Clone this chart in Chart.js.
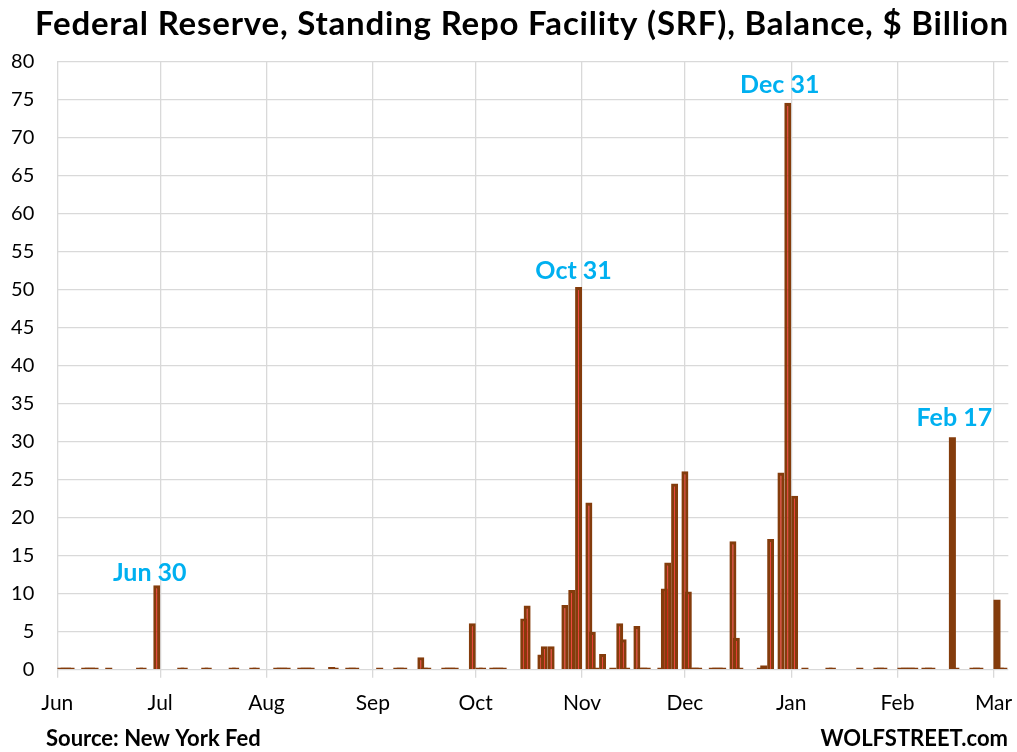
<!DOCTYPE html>
<html>
<head>
<meta charset="utf-8">
<script src="https://cdn.jsdelivr.net/npm/chart.js@4.4.0/dist/chart.umd.min.js"></script>
<style>
  html, body { margin: 0; padding: 0; background: #fff; }
  #wrap { width: 1017px; height: 752px; position: relative; }
</style>
</head>
<body>
<div id="wrap"><canvas id="myChart"></canvas></div>
<script>
// SRF balance in $ billion, one entry per day with an operation (other days are left out)
var dates = [
  '2025-06-02', '2025-06-03', '2025-06-04', '2025-06-05', '2025-06-09', '2025-06-10', '2025-06-11', '2025-06-12',
  '2025-06-16', '2025-06-25', '2025-06-26', '2025-06-30',
  '2025-07-07', '2025-07-08', '2025-07-14', '2025-07-15', '2025-07-22', '2025-07-23', '2025-07-28', '2025-07-29',
  '2025-08-04', '2025-08-05', '2025-08-06', '2025-08-07', '2025-08-11', '2025-08-12', '2025-08-13', '2025-08-14',
  '2025-08-20', '2025-08-21', '2025-08-25', '2025-08-26', '2025-08-27',
  '2025-09-03', '2025-09-08', '2025-09-09', '2025-09-10', '2025-09-15', '2025-09-16', '2025-09-17',
  '2025-09-22', '2025-09-23', '2025-09-24', '2025-09-25', '2025-09-30',
  '2025-10-02', '2025-10-03', '2025-10-06', '2025-10-07', '2025-10-08', '2025-10-09', '2025-10-15', '2025-10-16',
  '2025-10-20', '2025-10-21', '2025-10-23', '2025-10-27', '2025-10-29', '2025-10-31',
  '2025-11-03', '2025-11-04', '2025-11-05', '2025-11-07', '2025-11-10', '2025-11-12', '2025-11-13', '2025-11-14',
  '2025-11-17', '2025-11-18', '2025-11-19', '2025-11-20', '2025-11-24', '2025-11-25', '2025-11-26', '2025-11-28',
  '2025-12-01', '2025-12-02', '2025-12-03', '2025-12-04', '2025-12-05', '2025-12-09', '2025-12-10', '2025-12-11',
  '2025-12-12', '2025-12-15', '2025-12-16', '2025-12-17', '2025-12-23', '2025-12-24', '2025-12-26', '2025-12-29',
  '2025-12-31',
  '2026-01-02', '2026-01-05', '2026-01-12', '2026-01-13', '2026-01-21', '2026-01-26', '2026-01-27', '2026-01-28',
  '2026-02-02', '2026-02-03', '2026-02-04', '2026-02-05', '2026-02-06', '2026-02-09', '2026-02-10', '2026-02-11',
  '2026-02-17', '2026-02-18', '2026-02-23', '2026-02-24', '2026-02-25',
  '2026-03-02', '2026-03-03', '2026-03-04'
];
var balances = [
  0.01, 0.01, 0.01, 0.01, 0.01, 0.01, 0.01, 0.01,
  0.01, 0.01, 0.01, 11.1,
  0.01, 0.01, 0.01, 0.01, 0.01, 0.01, 0.01, 0.01,
  0.01, 0.01, 0.01, 0.01, 0.01, 0.01, 0.01, 0.01,
  0.35, 0.01, 0.01, 0.01, 0.01,
  0.01, 0.01, 0.01, 0.01, 1.65, 0.01, 0.01,
  0.01, 0.01, 0.01, 0.01, 6.1,
  0.01, 0.01, 0.01, 0.01, 0.01, 0.01, 6.75, 8.45,
  2.0, 3.1, 3.1, 8.5, 10.5, 50.35,
  22.0, 5.0, 0.01, 2.05, 0.01, 6.1, 4.0, 0.01,
  5.75, 0.01, 0.01, 0.01, 0.01, 10.7, 14.1, 24.5,
  26.1, 10.3, 0.01, 0.01, 0.01, 0.01, 0.01, 0.01,
  0.01, 16.9, 4.2, 0.01, 0.01, 0.55, 17.2, 25.95,
  74.6,
  22.9, 0.01, 0.01, 0.01, 0.01, 0.01, 0.01, 0.01,
  0.01, 0.01, 0.01, 0.01, 0.01, 0.01, 0.01, 0.01,
  30.6, 0.01, 0.01, 0.01, 0.01,
  9.2, 0.01, 0.01
];

// x axis: month starts and their labels
var monthStarts = ['2025-06-01', '2025-07-01', '2025-08-01', '2025-09-01', '2025-10-01',
                   '2025-11-01', '2025-12-01', '2026-01-01', '2026-02-01', '2026-03-01'];
var monthLabels = ['Jun', 'Jul', 'Aug', 'Sep', 'Oct', 'Nov', 'Dec', 'Jan', 'Feb', 'Mar'];

// callouts
var noteDates = ['2025-06-30', '2025-10-31', '2025-12-31', '2026-02-17'];
var noteLabels = ['Jun 30', 'Oct 31', 'Dec 31', 'Feb 17'];

var titleText = 'Federal Reserve, Standing Repo Facility (SRF), Balance, $ Billion';
var sourceText = 'Source: New York Fed';
var siteText = 'WOLFSTREET.com';

// days since Jun 1, 2025
function dayNum(s) {
  var p = s.split('-');
  return (Date.UTC(+p[0], p[1] - 1, +p[2]) - Date.UTC(2025, 5, 1)) / 86400000;
}

var points = dates.map(function (d, i) { return { x: dayNum(d), y: balances[i] }; });
var tickDays = monthStarts.map(dayNum);
var FONT = 'Lato, "Open Sans", sans-serif';
var BROWN = '#843c0c';

// older tall bars show a thin red core inside the brown outline
function redCore(c) {
  var r = c.raw;
  return !!(r && r.y > 1 && r.x < dayNum('2026-02-01'));
}

var textPlugin = {
  id: 'texts',
  afterDraw: function (chart) {
    var c = chart.ctx, xs = chart.scales.x, ys = chart.scales.y;
    c.save();
    c.fillStyle = '#000';
    c.textBaseline = 'alphabetic';
    c.font = 'bold 33px ' + FONT;
    c.textAlign = 'center';
    c.letterSpacing = '0.8px';
    c.fillText(titleText, 522, 35);
    c.letterSpacing = '0px';

    c.font = 'bold 22px ' + FONT;
    c.textAlign = 'left';
    c.fillText(sourceText, 46, 746);
    c.textAlign = 'right';
    c.fillText(siteText, 1008, 746);

    // callout labels sit just above their bar
    var dx = [-7, -5, -8, 2], gap = [4, 8, 10, 11];
    c.fillStyle = '#00b0f0';
    c.font = 'bold 25px ' + FONT;
    c.textAlign = 'center';
    noteDates.forEach(function (d, i) {
      var v = balances[dates.indexOf(d)];
      c.fillText(noteLabels[i], xs.getPixelForValue(dayNum(d)) + dx[i], ys.getPixelForValue(v) - gap[i]);
    });
    c.restore();
  }
};

function draw() {
  var ctx = document.getElementById('myChart').getContext('2d');
  new Chart(ctx, {
    type: 'bar',
    data: {
      datasets: [{
        label: 'SRF',
        data: points,
        barThickness: 7,
        minBarLength: 2,
        inflateAmount: 0,
        borderColor: BROWN,
        borderWidth: function (c) { return redCore(c) ? 3.2 : 0; },
        backgroundColor: function (c) { return redCore(c) ? '#ff0000' : BROWN; }
      }]
    },
    options: {
      responsive: true,
      maintainAspectRatio: false,
      animation: false,
      events: [],
      layout: { padding: { top: 61.7, right: 8.7, bottom: 0, left: 0 } },
      plugins: { legend: { display: false }, tooltip: { enabled: false }, title: { display: false } },
      scales: {
        x: {
          type: 'linear',
          min: 0,
          max: 277.3,
          offset: false,
          afterBuildTicks: function (s) { s.ticks = tickDays.map(function (v) { return { value: v }; }); },
          afterFit: function (s) { s.height = 82.3; s.paddingLeft = 0; s.paddingRight = 0; },
          grid: { color: '#d9d9d9', lineWidth: 1.3, tickLength: 8, tickColor: '#d9d9d9', offset: false },
          border: { display: false },
          ticks: {
            autoSkip: false,
            maxRotation: 0,
            padding: 13,
            color: '#000',
            font: { family: FONT, size: 21 },
            callback: function (v) { var i = tickDays.indexOf(v); return i < 0 ? '' : monthLabels[i]; }
          }
        },
        y: {
          min: 0,
          max: 80,
          afterFit: function (s) { s.width = 57.3; },
          grid: { color: '#d9d9d9', lineWidth: 1.3, drawTicks: false },
          border: { display: false },
          ticks: { stepSize: 5, padding: 23, color: '#000', font: { family: FONT, size: 20 } }
        }
      }
    },
    plugins: [textPlugin]
  });
}

if (document.fonts && document.fonts.load) {
  Promise.all([document.fonts.load('19px Lato'), document.fonts.load('bold 28px Lato')])
    .then(draw, draw);
} else {
  draw();
}
</script>
</body>
</html>
